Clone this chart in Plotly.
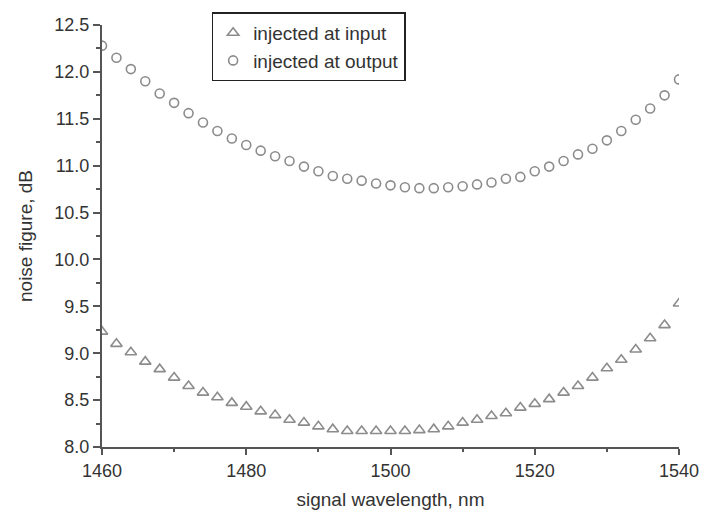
import plotly.graph_objects as go

wavelength = [1460 + 2 * i for i in range(41)]

nf_input = [9.23, 9.10, 9.01, 8.91, 8.83, 8.74, 8.65, 8.58, 8.53, 8.47,
            8.43, 8.38, 8.34, 8.29, 8.26, 8.22, 8.19, 8.17, 8.17, 8.17,
            8.17, 8.17, 8.18, 8.19, 8.22, 8.26, 8.29, 8.33, 8.36, 8.42,
            8.46, 8.51, 8.58, 8.65, 8.74, 8.84, 8.93, 9.04, 9.16, 9.30,
            9.53]

nf_output = [12.28, 12.15, 12.03, 11.90, 11.77, 11.67, 11.56, 11.46, 11.37, 11.29,
             11.22, 11.16, 11.10, 11.05, 10.99, 10.94, 10.89, 10.86, 10.84, 10.81,
             10.79, 10.77, 10.76, 10.76, 10.77, 10.78, 10.80, 10.82, 10.86, 10.88,
             10.94, 10.99, 11.05, 11.12, 11.18, 11.27, 11.37, 11.49, 11.61, 11.75,
             11.92]

series_names = ["injected at input", "injected at output"]
x_ticks = [1460, 1480, 1500, 1520, 1540]
y_ticks = [8.0, 8.5, 9.0, 9.5, 10.0, 10.5, 11.0, 11.5, 12.0, 12.5]

FONT = "Liberation Sans, Arial, sans-serif"
MARK = "#8c8c8c"
AXIS = "#555555"

fig = go.Figure()
fig.add_trace(go.Scatter(
    x=wavelength, y=nf_input, mode="markers", name=series_names[0],
    marker=dict(symbol="triangle-up-open", size=10, color=MARK,
                line=dict(width=1.6, color=MARK)),
))
fig.add_trace(go.Scatter(
    x=wavelength, y=nf_output, mode="markers", name=series_names[1],
    marker=dict(symbol="circle-open", size=9, color=MARK,
                line=dict(width=1.6, color=MARK)),
))

fig.update_layout(
    width=711, height=519,
    margin=dict(l=102, r=30, t=15, b=72),
    paper_bgcolor="white", plot_bgcolor="white",
    font=dict(family=FONT, size=19, color="#333333"),
    showlegend=True,
    legend=dict(
        x=0.19, y=1.03, xanchor="left", yanchor="top",
        bgcolor="white", bordercolor="#222222", borderwidth=1.5,
        font=dict(family=FONT, size=19, color="#333333"),
        itemwidth=30, tracegroupgap=0,
    ),
    xaxis=dict(
        range=[1460, 1540], tickvals=x_ticks, ticktext=[str(v) for v in x_ticks],
        showline=True, linecolor=AXIS, linewidth=2, mirror=False,
        ticks="outside", ticklen=6, tickwidth=2, tickcolor=AXIS,
        minor=dict(dtick=10, tick0=1460, ticks="outside", ticklen=3, tickwidth=1.5, tickcolor=AXIS),
        showgrid=False, zeroline=False,
        title=dict(text="signal wavelength, nm", standoff=13, font=dict(size=19)),
        tickfont=dict(size=18),
    ),
    yaxis=dict(
        range=[8.0, 12.5], tickvals=y_ticks, ticktext=[f"{v:.1f}" for v in y_ticks],
        showline=True, linecolor=AXIS, linewidth=2, mirror=False,
        ticks="outside", ticklen=7, tickwidth=2, tickcolor=AXIS,
        minor=dict(dtick=0.25, tick0=8.0, ticks="outside", ticklen=4, tickwidth=1.5, tickcolor=AXIS),
        showgrid=False, zeroline=False,
        title=dict(text="noise figure, dB", standoff=17, font=dict(size=19)),
        tickfont=dict(size=18),
    ),
)

fig.write_html("out.html")
